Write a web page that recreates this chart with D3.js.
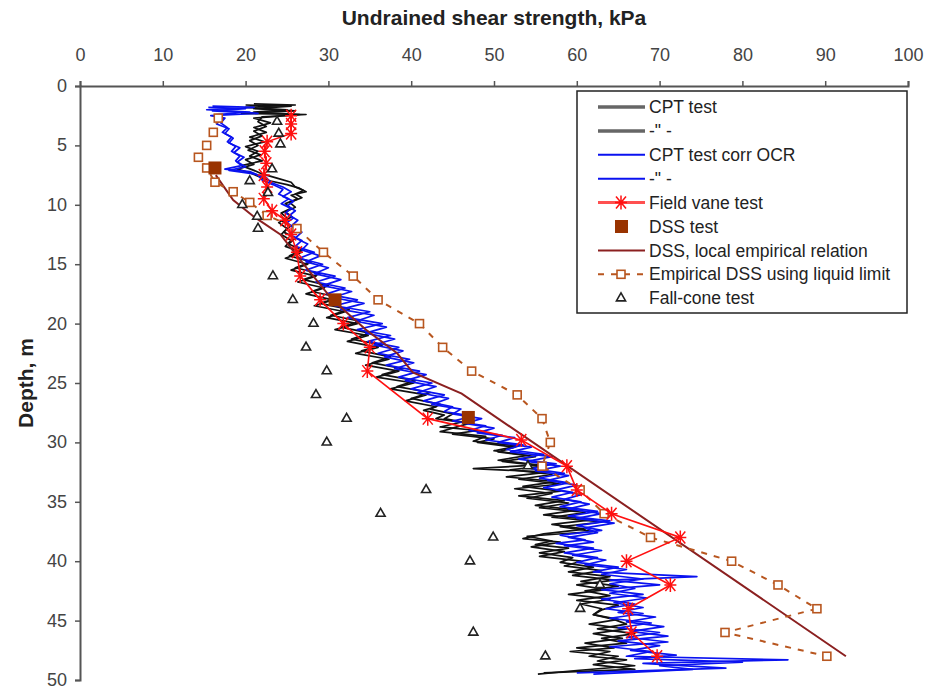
<!DOCTYPE html>
<html lang="en">
<head>
<meta charset="utf-8">
<script src="https://d3js.org/d3.v7.min.js"></script>
<style>
  body { margin: 0; background: #fff; }
  svg text { font-family: Arial, "Liberation Sans", sans-serif; fill: #333; }
  .axis path, .axis line { stroke: #555; }
  .axis path { stroke-width: 2; }
  .axis line { stroke-width: 1.5; }
  .axis text { font-size: 18px; fill: #444; }
</style>
</head>
<body>
<script>
// ---- data (depth in m, strength in kPa) ----
const xTicks = [0, 10, 20, 30, 40, 50, 60, 70, 80, 90, 100];
const yTicks = [0, 5, 10, 15, 20, 25, 30, 35, 40, 45, 50];

// CPT test, profile 1 (black)
const cpt1Depth = [1.6,1.7,1.9,2.1,2.3,2.4,2.6,3.0,3.4,3.8,4.2,4.6,5.0,5.4,5.8,6.2,6.6,7.0,7.3,7.6,8.0,8.3,8.6,8.9,9.2,9.5,9.9,10.3,10.7,11.1,11.5,12,12.5,13,13.5,14,14.5,15,15.5,16,16.5,17,17.5,18,18.5,19,19.5,20,20.5,21,21.5,22,22.5,23,23.5,24,24.5,25,25.5,26,26.5,27,27.3,27.7,28,28.3,28.7,29,29.3,29.7,30,30.4,30.8,31.2,31.6,32,32.3,32.7,33.1,33.5,33.9,34.3,34.7,35.1,35.5,35.9,36.3,36.7,37.1,37.5,37.9,38.3,38.6,38.9,39.3,39.7,40.1,40.5,40.9,41.3,41.7,42.1,42.5,42.9,43.3,43.7,44.1,44.5,44.9,45.3,45.7,46.1,46.5,46.9,47.3,47.6,48,48.3,48.7,49.1,49.4];
const cpt1Su = [20,25.5,21,26,19.5,27.3,22,21.5,22.5,21,22,20.5,21.5,20.3,21.8,20,21,19,20.5,21.5,23,25,26.5,27.3,25.5,26.3,24.8,25.5,24.3,25,24,25,24.3,25.5,24.8,26.8,24.8,27.5,25.5,28.5,26.3,29.5,27.3,30.5,28.3,32,29.8,33.5,30.8,34.8,32.3,36,33.3,37.3,34.5,38.5,35.8,40.3,37.5,41.8,39.3,43,41.5,44,43,46,43.5,48,45,50,48,52.5,50.5,55,51,56,52,57,53,58,52.5,57,54,59,55.5,61,57,63,58,62,54,57,55,59,55.5,59.5,58,62,59,64,60.5,65,61,64,60,65,63,62,64.5,66,62.5,67,63,66,60,64,61.5,66,62,67,56];

// CPT test, profile 2 (black)
const cpt2Depth = [1.5,1.6,1.8,2.0,2.2,2.4,2.7,3.1,3.5,3.9,4.3,4.7,5.1,5.5,5.9,6.3,6.7,7.1,7.4,7.8,8.1,8.5,8.8,9.1,9.4,9.8,10.2,10.6,11,11.4,11.8,12.3,12.8,13.3,13.8,14.3,14.8,15.3,15.8,16.3,16.8,17.3,17.8,18.3,18.8,19.3,19.8,20.3,20.8,21.3,21.8,22.3,22.8,23.3,23.8,24.3,24.8,25.3,25.8,26.3,26.8,27.2,27.6,28,28.4,28.8,29.1,29.5,29.9,30.3,30.7,31.1,31.5,31.9,32.2,32.5,32.9,33.3,33.7,34.1,34.5,34.9,35.3,35.7,36.1,36.5,36.9,37.3,37.7,38.1,38.4,38.8,39.2,39.6,40,40.4,40.8,41.2,41.6,42,42.4,42.8,43.2,43.6,44,44.5,44.9,45.3,45.7,46.1,46.5,46.9,47.3,47.6,48,48.4,48.8,49.2,49.5];
const cpt2Su = [21,26,20,25,21,26.5,21,23,21,22.5,20.5,22.3,20,21.5,20.5,22,19.5,21,22,24,25.5,26,27,26,26.8,25.3,26,24.8,25.6,24.5,25.4,24.6,26,25.2,26.8,25.3,28,26,29,27,30,28,31.3,29,32.5,30.3,33.8,31.5,35,32.8,36.5,34,37.5,35.3,39,36.5,40.5,38.3,42.3,40,43.5,42.3,45,44,47,45,43.5,49,47.5,53,50,54,50.5,55.5,47.5,56.5,51.5,57.5,53.5,58,53,58.5,55,60,56,62,57,61,56,53.5,58,54.5,58.5,55.5,60.5,58.5,63,59.5,64.5,60,63.5,59,64,60.5,63,62,65,61.5,66,62,65.5,61,64.5,59.2,65,62.5,67,60,55.3];

// CPT test corrected for OCR, profile 1 (blue)
const ocr1Depth = [1.8,1.9,2.1,2.3,2.5,2.7,3.1,3.5,3.9,4.3,4.7,5.1,5.5,5.9,6.3,6.7,7.0,7.2,7.5,7.9,8.3,8.7,9.1,9.5,9.9,10.3,10.7,11.1,11.5,12,12.5,13,13.5,14,14.5,15,15.5,16,16.5,17,17.5,18,18.5,19,19.5,20,20.5,21,21.5,22,22.5,23,23.5,24,24.5,25,25.5,26,26.5,27,27.4,27.8,28.2,28.6,29,29.4,29.8,30.2,30.6,31,31.4,31.8,32.2,32.6,33,33.4,33.8,34.2,34.6,35,35.4,35.8,36.2,36.6,37,37.4,37.8,38.2,38.5,38.9,39.3,39.7,40.1,40.5,40.9,41.3,41.6,42,42.4,42.8,43.2,43.6,44,44.4,44.8,45.2,45.6,46,46.4,46.8,47.2,47.6,48,48.3,48.6,49,49.4];
const ocr1Su = [15.5,20,16,21.5,15.8,17.5,17,17.8,17.2,18.3,17.8,18.8,18.3,19.3,18.8,19.5,17.5,20.5,21.5,22,23.3,24.5,24,25.2,24.3,25.5,24.8,25.8,25,26,25.3,26.8,26,28.3,26.5,29.3,27.3,30.8,28.5,32,29.8,33.5,30.8,35,32.3,36.5,33.5,37.5,34.8,38.5,36,39.8,37,41,38.5,42.5,40,44,41.5,45,44,47.5,45,49,47,51,49,53.5,51.5,56,53,57.5,54.5,58.5,55.5,59,56,59.5,57,60.5,58,62.5,59,64,60,63,58,61,57.5,62,58.5,62.5,60,65,62,74.5,64,70,63,68,63,67,63.5,68,64,69,65,70,66,71,64,69,66,85.5,68,78,60];

// CPT test corrected for OCR, profile 2 (blue)
const ocr2Depth = [1.7,1.8,2.0,2.2,2.4,2.8,3.2,3.6,4.0,4.4,4.8,5.2,5.6,6.0,6.4,6.8,7.1,7.4,7.7,8.1,8.5,8.9,9.3,9.7,10.1,10.5,10.9,11.3,11.8,12.3,12.8,13.3,13.8,14.3,14.8,15.3,15.8,16.3,16.8,17.3,17.8,18.3,18.8,19.3,19.8,20.3,20.8,21.3,21.8,22.3,22.8,23.3,23.8,24.3,24.8,25.3,25.8,26.3,26.8,27.2,27.6,28,28.4,28.8,29.2,29.6,30,30.4,30.8,31.2,31.6,32,32.4,32.8,33.2,33.6,34,34.4,34.8,35.2,35.6,36,36.4,36.8,37.2,37.6,38,38.4,38.7,39.1,39.5,39.9,40.3,40.7,41.1,41.5,41.9,42.3,42.7,43.1,43.5,43.9,44.3,44.7,45.1,45.5,45.9,46.3,46.7,47.1,47.5,47.9,48.2,48.5,48.8,49.1,49.5];
const ocr2Su = [16,21,15.3,20.5,16.5,17,16.5,18,17.5,18.5,18,19.3,18.6,19.8,19,20,18,21,22.5,23,24.5,25.5,24.5,25.8,25,26,25.3,26.3,25.5,26.8,26,27.5,26.8,29,27.3,30,28.3,31.5,29.3,32.8,30.5,34.3,31.5,35.5,33.3,37,34.5,38,35.5,39,36.8,40.3,38,41.8,39.3,43,40.8,44.5,42.5,46,45,48.5,46.5,50,48,52.5,50.5,54.5,52,57,54,58,55,59,56.5,60,57.5,60.5,58.5,61.5,59,63,60,64.5,61,62.5,59,62,58.5,63,59.5,63.5,61,66,63,68,64,67,64,68.5,64.5,68,65,69.5,66,70.5,66.5,71,65,70,66.5,72,67,80,70,74,62];

// Field vane test
const vaneDepth = [2.5,3.2,4.0,4.7,5.5,6.5,7.5,8.5,9.5,10.5,11.3,12.5,14,16,18,20,22,24,28,29.8,32,34,36,38,40,42,44,46,48];
const vaneSu = [25.5,25.5,25.5,22.6,22.3,22.5,22.2,22.6,22.2,23.2,24.8,25.5,26.2,26.6,29,31.8,35,34.7,42,53.3,58.8,60,64.2,72.5,66,71.3,66.2,66.6,69.7];

// DSS test
const dssDepth = [6.9, 18, 27.9];
const dssSu = [16.3, 30.8, 46.9];

// DSS, local empirical relation
const dssLocalDepth = [7.5, 9.6, 11, 12.5, 15, 18, 20.5, 22.5, 24.1, 25.9, 48];
const dssLocalSu = [16.4, 18.5, 21, 24.2, 27, 30.5, 34.5, 38.3, 40.2, 46.1, 92.5];

// Empirical DSS using liquid limit
const empDepth = [2.7,3.9,5,6,6.9,8.1,8.9,9.8,10.9,12,14,16,18,20,22,24,26,28,30,32,34,36,38,40,42,44,46,48];
const empSu = [16.7,16.1,15.3,14.3,15.3,16.3,18.5,20.5,22.6,26.2,29.4,33,36,41,43.8,47.3,52.8,55.8,56.8,55.8,60.4,63.3,68.9,78.7,84.3,89,77.9,90.2];

// Fall-cone test
const coneDepth = [3,4,4.9,7,8,9,10,11,12,16,18,20,22,24,26,28,30,32,34,36,38,40,42,44,46,48];
const coneSu = [23.8,24,24.2,23.2,20.5,22.7,19.6,21.4,21.5,23.3,25.7,28.2,27.3,29.8,28.5,32.2,29.8,54.1,41.8,36.3,49.9,47.1,62.8,60.4,47.5,56.2];

const legendLabels = ["CPT test", "-\" -", "CPT test corr OCR", "-\" -", "Field vane test", "DSS test",
  "DSS, local empirical relation", "Empirical DSS using liquid limit", "Fall-cone test"];

// ---- chart ----
const width = 932, height = 689;
const svg = d3.select("body").append("svg")
  .attr("width", width).attr("height", height);

const x = d3.scaleLinear().domain([0, 100]).range([80, 908]);
const y = d3.scaleLinear().domain([0, 50]).range([86, 680]);

const pts = (ds, vs) => ds.map((d, i) => [vs[i], d]);
const line = d3.line().x(d => x(d[0])).y(d => y(d[1]));

const col = {
  cpt: "#111", ocr: "#0a12f0", vane: "#ff1010", dss: "#993300",
  local: "#8b2020", emp: "#b8561f", cone: "#222"
};

// axes
svg.append("g").attr("class", "axis")
  .attr("transform", "translate(0," + y(0) + ")")
  .call(d3.axisTop(x).tickValues(xTicks).tickSize(5).tickPadding(20));
svg.append("g").attr("class", "axis")
  .attr("transform", "translate(" + x(0) + ",0)")
  .call(d3.axisLeft(y).tickValues(yTicks).tickSize(5).tickPadding(8))
  .selectAll("text").attr("dy", "0.3em");

svg.append("text").attr("x", 494).attr("y", 25).attr("text-anchor", "middle")
  .style("font-size", "21px").style("font-weight", "bold").style("fill", "#222")
  .text("Undrained shear strength, kPa");
svg.append("text").attr("transform", "translate(33,383) rotate(-90)")
  .attr("text-anchor", "middle")
  .style("font-size", "21px").style("font-weight", "bold").style("fill", "#222")
  .text("Depth, m");

// CPT profiles
[[cpt1Depth, cpt1Su, col.cpt], [cpt2Depth, cpt2Su, col.cpt],
 [ocr1Depth, ocr1Su, col.ocr], [ocr2Depth, ocr2Su, col.ocr]].forEach(s => {
  svg.append("path").datum(pts(s[0], s[1]))
    .attr("d", line).attr("fill", "none")
    .attr("stroke", s[2]).attr("stroke-width", 1.7).attr("stroke-linejoin", "round");
});

// DSS local empirical relation
svg.append("path").datum(pts(dssLocalDepth, dssLocalSu))
  .attr("d", line).attr("fill", "none")
  .attr("stroke", col.local).attr("stroke-width", 2);

// Empirical DSS using liquid limit
svg.append("path").datum(pts(empDepth, empSu))
  .attr("d", line).attr("fill", "none")
  .attr("stroke", col.emp).attr("stroke-width", 2).attr("stroke-dasharray", "6,7");
svg.selectAll(".emp").data(pts(empDepth, empSu)).enter().append("rect")
  .attr("x", d => x(d[0]) - 4).attr("y", d => y(d[1]) - 4)
  .attr("width", 8).attr("height", 8)
  .attr("fill", "#fff").attr("stroke", col.emp).attr("stroke-width", 1.6);

// Field vane test
const star = "M-5,-6L5,6M-5,6L5,-6M0,-7L0,7M-6,0L6,0";
svg.append("path").datum(pts(vaneDepth, vaneSu))
  .attr("d", line).attr("fill", "none")
  .attr("stroke", col.vane).attr("stroke-width", 1.6);
svg.selectAll(".vane").data(pts(vaneDepth, vaneSu)).enter().append("path")
  .attr("transform", d => "translate(" + x(d[0]) + "," + y(d[1]) + ")")
  .attr("d", star).attr("fill", "none").attr("stroke", col.vane).attr("stroke-width", 1.5);

// DSS test
svg.selectAll(".dss").data(pts(dssDepth, dssSu)).enter().append("rect")
  .attr("x", d => x(d[0]) - 6.5).attr("y", d => y(d[1]) - 6.5)
  .attr("width", 13).attr("height", 13).attr("fill", col.dss);

// Fall-cone test
const tri = d3.symbol().type(d3.symbolTriangle).size(36);
svg.selectAll(".cone").data(pts(coneDepth, coneSu)).enter().append("path")
  .attr("transform", d => "translate(" + x(d[0]) + "," + y(d[1]) + ")")
  .attr("d", tri).attr("fill", "#fff").attr("stroke", col.cone).attr("stroke-width", 1.6);

// legend
const lg = svg.append("g");
lg.append("rect").attr("x", 577).attr("y", 91).attr("width", 330).attr("height", 222)
  .attr("fill", "#fff").attr("stroke", "#222").attr("stroke-width", 1.5);
const rowY = i => 107 + i * 23.9;
const lx0 = 598, lx1 = 645;
legendLabels.forEach((t, i) => {
  lg.append("text").attr("x", 649).attr("y", rowY(i)).attr("dy", "0.35em")
    .style("font-size", "17.5px").style("fill", "#222").text(t);
});
[[0, "#666", 3.5], [1, "#666", 3.5], [2, col.ocr, 2], [3, col.ocr, 2]].forEach(s => {
  lg.append("line").attr("x1", lx0).attr("x2", lx1).attr("y1", rowY(s[0])).attr("y2", rowY(s[0]))
    .attr("stroke", s[1]).attr("stroke-width", s[2]);
});
lg.append("line").attr("x1", lx0).attr("x2", lx1).attr("y1", rowY(4)).attr("y2", rowY(4))
  .attr("stroke", "#ff5050").attr("stroke-width", 3);
lg.append("path").attr("transform", "translate(621," + rowY(4) + ")")
  .attr("d", star).attr("fill", "none").attr("stroke", col.vane).attr("stroke-width", 1.5);
lg.append("rect").attr("x", 615).attr("y", rowY(5) - 6.5).attr("width", 13).attr("height", 13)
  .attr("fill", col.dss);
lg.append("line").attr("x1", lx0).attr("x2", lx1).attr("y1", rowY(6)).attr("y2", rowY(6))
  .attr("stroke", col.local).attr("stroke-width", 2);
lg.append("line").attr("x1", lx0).attr("x2", lx1).attr("y1", rowY(7)).attr("y2", rowY(7))
  .attr("stroke", col.emp).attr("stroke-width", 2).attr("stroke-dasharray", "6,7");
lg.append("rect").attr("x", 617).attr("y", rowY(7) - 4).attr("width", 8).attr("height", 8)
  .attr("fill", "#fff").attr("stroke", col.emp).attr("stroke-width", 1.6);
lg.append("path").attr("transform", "translate(621," + rowY(8) + ")")
  .attr("d", tri).attr("fill", "#fff").attr("stroke", col.cone).attr("stroke-width", 1.6);
</script>
</body>
</html>
